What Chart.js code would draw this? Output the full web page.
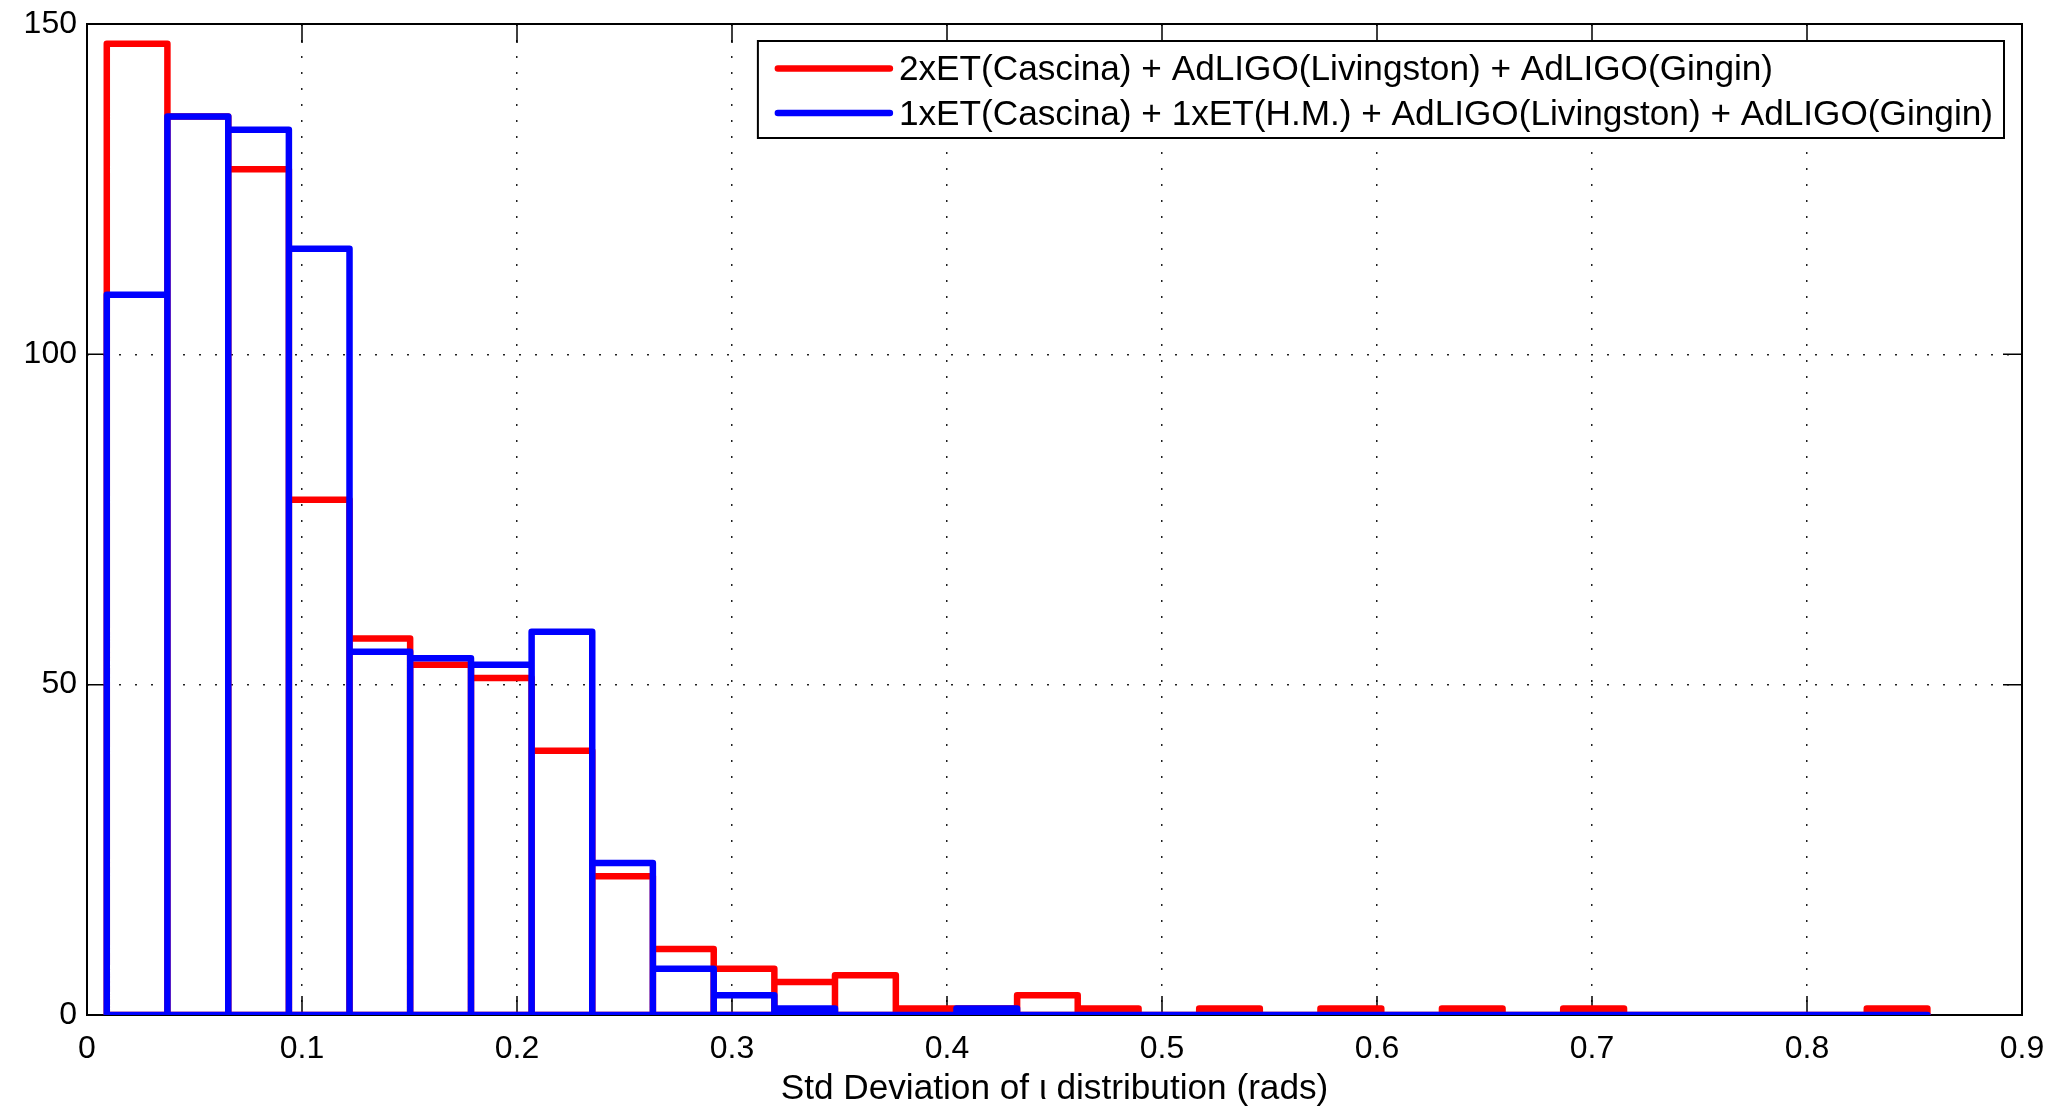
<!DOCTYPE html>
<html><head><meta charset="utf-8">
<script src="https://cdn.jsdelivr.net/npm/chart.js@4.4.0/dist/chart.umd.min.js"></script>
<style>html,body{margin:0;padding:0;background:#fff;}canvas{display:block;}</style>
</head><body>
<canvas id="c" width="2064" height="1110"></canvas>
<script>
// ---- data ----
const binEdges = [0.0092, 0.0374, 0.0657, 0.0939, 0.1221, 0.1503, 0.1786, 0.2068, 0.2350, 0.2632,
                  0.2915, 0.3197, 0.3479, 0.3762, 0.4044, 0.4326, 0.4608, 0.4891, 0.5173, 0.5455,
                  0.5737, 0.6020, 0.6302, 0.6584, 0.6866, 0.7149, 0.7431, 0.7713, 0.7996, 0.8278, 0.8560];
const redCounts  = [147, 136, 128, 78, 57, 53, 51, 40, 21, 10, 7, 5, 6, 1, 1, 3, 1, 0, 1, 0, 1, 0, 1, 0, 1, 0, 0, 0, 0, 1];
const blueCounts = [109, 136, 134, 116, 55, 54, 53, 58, 23, 7, 3, 1, 0, 0, 1, 0, 0, 0, 0, 0, 0, 0, 0, 0, 0, 0, 0, 0, 0, 0];
const seriesLabels = ['2xET(Cascina) + AdLIGO(Livingston) + AdLIGO(Gingin)',
                      '1xET(Cascina) + 1xET(H.M.) + AdLIGO(Livingston) + AdLIGO(Gingin)'];
const xTickLabels = ['0', '0.1', '0.2', '0.3', '0.4', '0.5', '0.6', '0.7', '0.8', '0.9'];
const yTickLabels = ['0', '50', '100', '150'];
const xTitle = 'Std Deviation of \u03b9 distribution (rads)';

// outline of every histogram bar (left side, top, right side) plus the base line
function outline(counts) {
  const pts = [];
  for (let i = 0; i < counts.length; i++) {
    pts.push({x: binEdges[i], y: 0}, {x: binEdges[i], y: counts[i]},
             {x: binEdges[i + 1], y: counts[i]}, {x: binEdges[i + 1], y: 0});
  }
  pts.push({x: binEdges[0], y: 0});
  return pts;
}

const FONT = "'Liberation Sans', Arial, Helvetica, sans-serif";
Chart.defaults.font.family = FONT;
Chart.defaults.color = '#000';

const matlabAxes = {
  id: 'matlabAxes',
  beforeDatasetsDraw(chart) {
    const {ctx, chartArea: a, scales: {x, y}} = chart;
    const L = 19;
    ctx.save();
    ctx.strokeStyle = '#000';
    ctx.lineWidth = 1.5;
    ctx.beginPath();
    x.ticks.forEach(t => {
      const px = x.getPixelForValue(t.value);
      ctx.moveTo(px, a.bottom); ctx.lineTo(px, a.bottom - L);
      ctx.moveTo(px, a.top); ctx.lineTo(px, a.top + L);
    });
    y.ticks.forEach(t => {
      const py = y.getPixelForValue(t.value);
      ctx.moveTo(a.left, py); ctx.lineTo(a.left + L, py);
      ctx.moveTo(a.right, py); ctx.lineTo(a.right - L, py);
    });
    ctx.stroke();
    ctx.lineWidth = 2;
    ctx.strokeRect(a.left, a.top, a.right - a.left, a.bottom - a.top);
    ctx.restore();
  }
};

const boxLegend = {
  id: 'boxLegend',
  afterDraw(chart) {
    const {ctx, chartArea: a} = chart;
    const ds = chart.data.datasets;
    ctx.save();
    ctx.font = '35.2px ' + FONT;
    const textW = Math.max(...ds.map(d => ctx.measureText(d.label).width));
    const padL = 20, lineLen = 112, gap = 9, padR = 11, rowH = 44.5, padT = 27.5, padB = 25;
    const w = padL + lineLen + gap + textW + padR;
    const h = padT + rowH * (ds.length - 1) + padB;
    const right = a.right - 18, top = a.top + 17;
    const left = right - w;
    ctx.fillStyle = '#fff';
    ctx.fillRect(left, top, w, h);
    ctx.strokeStyle = '#000';
    ctx.lineWidth = 2;
    ctx.strokeRect(left, top, w, h);
    ds.forEach((d, i) => {
      const cy = top + padT + i * rowH;
      ctx.strokeStyle = d.borderColor;
      ctx.lineWidth = 6.5;
      ctx.lineCap = 'round';
      ctx.beginPath();
      ctx.moveTo(left + padL, cy);
      ctx.lineTo(left + padL + lineLen, cy);
      ctx.stroke();
      ctx.fillStyle = '#000';
      ctx.textBaseline = 'middle';
      ctx.textAlign = 'left';
      ctx.fillText(d.label, left + padL + lineLen + gap, cy + 2);
    });
    ctx.restore();
  }
};

new Chart(document.getElementById('c'), {
  type: 'line',
  data: {
    datasets: [
      {label: seriesLabels[0], data: outline(redCounts), borderColor: '#ff0000', order: 1},
      {label: seriesLabels[1], data: outline(blueCounts), borderColor: '#0000ff', order: 0}
    ]
  },
  options: {
    responsive: false,
    animation: false,
    layout: {padding: {top: 24, right: 42, left: 0, bottom: 0}},
    elements: {
      line: {borderWidth: 6.5, tension: 0, fill: false, borderJoinStyle: 'round', borderCapStyle: 'round'},
      point: {radius: 0, hoverRadius: 0}
    },
    datasets: {line: {clip: 0, pointRadius: 0}},
    scales: {
      x: {
        type: 'linear', min: 0, max: 0.9,
        afterFit: s => { s.height = 95; s.paddingLeft = 0; s.paddingRight = 0; },
        ticks: {stepSize: 0.1, padding: 15, font: {size: 32}, color: '#000', maxRotation: 0,
                callback: (v, i) => xTickLabels[Math.round(v * 10)] ?? xTickLabels[i]},
        grid: {drawTicks: false, color: '#222', lineWidth: 1.5},
        border: {display: false, dash: [2, 14]},
        title: {display: true, text: xTitle, font: {size: 35.2}, color: '#000', padding: {top: 0, bottom: 0}}
      },
      y: {
        type: 'linear', min: 0, max: 150,
        afterFit: s => { s.width = 87; s.paddingTop = 0; s.paddingBottom = 0; },
        ticks: {stepSize: 50, padding: 10, font: {size: 32}, color: '#000',
                callback: (v, i) => yTickLabels[Math.round(v / 50)] ?? yTickLabels[i]},
        grid: {drawTicks: false, color: '#222', lineWidth: 1.5},
        border: {display: false, dash: [2, 14]}
      }
    },
    plugins: {legend: {display: false}, tooltip: {enabled: false}}
  },
  plugins: [matlabAxes, boxLegend]
});
</script>
</body></html>
